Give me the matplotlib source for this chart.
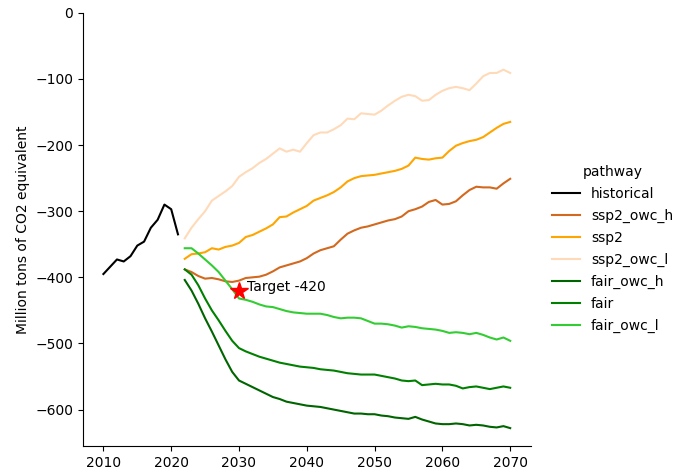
import matplotlib
matplotlib.use("Agg")
import matplotlib.pyplot as plt
import numpy as np

# %% data ---------------------------------------------------------------------
HIST_YEARS = list(range(2010, 2022))
HISTORICAL = [-395, -384, -373, -376, -368, -352, -346, -325, -313, -290, -297, -335]

PROJ_YEARS = list(range(2022, 2071))
SSP2_OWC_H = [-388, -392, -398, -402, -401, -403, -406, -407, -405, -401,
              -400, -399, -396, -391, -385, -382, -379, -376, -371, -364,
              -359, -356, -353, -343, -334, -329, -325, -323, -320, -317,
              -314, -312, -308, -300, -297, -293, -286, -283, -290, -289,
              -285, -276, -268, -263, -264, -264, -266, -258, -251]
SSP2 = [-372, -365, -364, -362, -356, -358, -354, -352, -348, -339,
        -336, -331, -326, -320, -309, -308, -302, -297, -292, -284,
        -280, -276, -271, -264, -255, -250, -247, -246, -245, -243,
        -241, -239, -236, -231, -219, -221, -222, -220, -219, -209,
        -201, -197, -194, -192, -188, -181, -174, -168, -165]
SSP2_OWC_L = [-341, -325, -312, -300, -284, -277, -270, -262, -248, -241,
              -235, -227, -221, -213, -205, -210, -207, -210, -197, -185,
              -181, -181, -176, -170, -160, -161, -152, -153, -154, -148,
              -140, -133, -127, -124, -126, -133, -132, -124, -118, -114,
              -112, -114, -117, -107, -96, -91, -91, -86, -91]
FAIR_OWC_H = [-404, -420, -440, -462, -482, -503, -524, -543, -556, -561,
              -566, -571, -576, -581, -584, -588, -590, -592, -594, -595,
              -596, -598, -600, -602, -604, -606, -606, -607, -607, -609,
              -610, -612, -613, -614, -611, -615, -618, -621, -622, -622,
              -621, -622, -624, -623, -624, -626, -627, -625, -628]
FAIR = [-388, -396, -412, -432, -450, -465, -481, -496, -507, -512,
        -516, -520, -523, -526, -529, -531, -533, -535, -536, -537,
        -539, -540, -541, -543, -545, -546, -547, -547, -547, -549,
        -551, -553, -556, -557, -556, -563, -562, -561, -562, -562,
        -564, -568, -566, -565, -567, -569, -567, -565, -567]
FAIR_OWC_L = [-356, -356, -364, -373, -382, -392, -405, -418, -432, -434,
              -437, -441, -444, -445, -448, -451, -453, -454, -455, -455,
              -455, -457, -460, -462, -461, -461, -462, -466, -470, -470,
              -471, -473, -476, -474, -475, -477, -478, -479, -481, -484,
              -483, -484, -486, -484, -487, -491, -494, -491, -496]

TARGET_YEAR = 2030
TARGET_VALUE = -420

PATHWAYS = [
    ("historical", HIST_YEARS, HISTORICAL, "black"),
    ("ssp2_owc_h", PROJ_YEARS, SSP2_OWC_H, "chocolate"),
    ("ssp2", PROJ_YEARS, SSP2, "orange"),
    ("ssp2_owc_l", PROJ_YEARS, SSP2_OWC_L, "peachpuff"),
    ("fair_owc_h", PROJ_YEARS, FAIR_OWC_H, "darkgreen"),
    ("fair", PROJ_YEARS, FAIR, "green"),
    ("fair_owc_l", PROJ_YEARS, FAIR_OWC_L, "limegreen"),
]

# %% plot ---------------------------------------------------------------------
fig = plt.figure(figsize=(6.78, 4.74), dpi=100)
ax = fig.add_axes([0.1225, 0.059, 0.66, 0.914])

for name, yrs, vals, col in PATHWAYS:
    ax.plot(yrs, vals, color=col, lw=1.5, label=name)

ax.plot(TARGET_YEAR, TARGET_VALUE, marker="*", color="red", markersize=13,
        linestyle="none")
ax.text(TARGET_YEAR + 1.2, TARGET_VALUE + 5, f"Target {TARGET_VALUE}",
        fontsize=10, va="center", ha="left")

ax.set_ylim(top=0)
ax.set_ylabel("Million tons of CO2 equivalent")
ax.spines["top"].set_visible(False)
ax.spines["right"].set_visible(False)

ax.legend(title="pathway", frameon=False, loc="center left",
          bbox_to_anchor=(1.02, 0.455), labelspacing=0.57)

fig.savefig("out.png", dpi=100)
